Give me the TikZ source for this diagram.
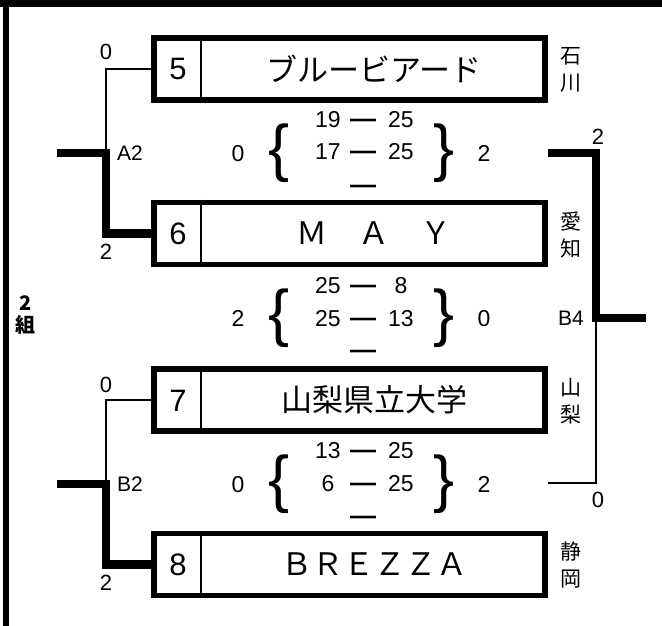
\documentclass[tikz,border=0pt]{standalone}
\usepackage{fontspec}
\setmainfont{Liberation Sans}
\newfontfamily\jpfont{Noto Sans CJK JP}
\usetikzlibrary{positioning}

\tikzset{
  teambox/.style={draw, line width=5.5pt, minimum width=391pt, minimum height=62pt, inner sep=0pt},
  divline/.style={line width=2.5pt},
  winline/.style={line width=8.5pt},
  loseline/.style={line width=2pt},
  numtxt/.style={font=\fontsize{31}{31}\selectfont, text height=22pt, text depth=0pt, inner sep=0pt},
  nametxt/.style={font=\jpfont\fontsize{31}{31}\selectfont, inner sep=0pt},
  preftxt/.style={font=\jpfont\fontsize{21}{27}\selectfont, align=center, inner sep=0pt},
  scoretxt/.style={font=\fontsize{23}{23}\selectfont, anchor=base, inner sep=0pt},
  dashtxt/.style={font=\bfseries\fontsize{26}{26}\selectfont, anchor=base, inner sep=0pt},
  bracetxt/.style={font=\fontsize{63}{63}\selectfont, inner sep=0pt},
  cornertxt/.style={font=\fontsize{22}{22}\selectfont, text height=15.5pt, text depth=0pt, inner sep=0pt},
  tagtxt/.style={font=\fontsize{21}{21}\selectfont, text height=15pt, text depth=0pt, inner sep=0pt},
  grouptxt/.style={font=\jpfont\bfseries\fontsize{20}{22}\selectfont, align=center, inner sep=0pt}
}

\begin{document}
\begin{tikzpicture}[x=1pt, y=-1pt]
\useasboundingbox (0,0) rectangle (662,626);
% frame
\draw[line width=6pt] (6,0) -- (6,626);
\draw[line width=7pt] (0,3.5) -- (662,3.5);
\node[grouptxt] (grp) at (26,315) {2\\組};
%
% teams
\node[teambox] (t5) at (349.5,69) {};
\node[teambox] (t6) at (349.5,233.5) {};
\node[teambox] (t7) at (349.5,400) {};
\node[teambox] (t8) at (349.5,564.5) {};
\draw[divline] ([xshift=49.5pt]t5.north west) -- ([xshift=49.5pt]t5.south west);
\draw[divline] ([xshift=49.5pt]t6.north west) -- ([xshift=49.5pt]t6.south west);
\draw[divline] ([xshift=49.5pt]t7.north west) -- ([xshift=49.5pt]t7.south west);
\draw[divline] ([xshift=49.5pt]t8.north west) -- ([xshift=49.5pt]t8.south west);
\node[numtxt] (n5) at (178,69) {5};
\node[numtxt] (n6) at (178,233.5) {6};
\node[numtxt] (n7) at (178,400) {7};
\node[numtxt] (n8) at (178,564.5) {8};
\node[nametxt] (m5) at (374,69) {ブルービアード};
\node[nametxt] (m6) at (374,233.5) {Ｍ　Ａ　Ｙ};
\node[nametxt] (m7) at (374,400) {山梨県立大学};
\node[nametxt] (m8) at (374,564.5) {ＢＲＥＺＺＡ};
\node[preftxt] (p5) at (571,70) {石\\川};
\node[preftxt] (p6) at (571,235) {愛\\知};
\node[preftxt] (p7) at (571,401) {山\\梨};
\node[preftxt] (p8) at (571,565) {静\\岡};
%
% first round, left
\coordinate (A2) at (106,153);
\coordinate (A2in) at (57,153);
\draw[loseline] (t5.west) -| (A2);
\draw[winline] (A2in) -- (A2) |- (t6.west);
\node[cornertxt] (c5) at (106,52) {0};
\node[cornertxt] (c6) at (106,252) {2};
\node[tagtxt] (tA2) at (130,153) {A2};
\coordinate (B2) at (106,484);
\coordinate (B2in) at (57,484);
\draw[loseline] (t7.west) -| (B2);
\draw[winline] (B2in) -- (B2) |- (t8.west);
\node[cornertxt] (c7) at (106,385) {0};
\node[cornertxt] (c8) at (106,583) {2};
\node[tagtxt] (tB2) at (130,484) {B2};
%
% right side
\coordinate (B4) at (596,318);
\coordinate (B4out) at (646,318);
\coordinate (R56) at (548,153);
\coordinate (R78) at (548,483);
\draw[winline] (R56) -| (B4) -- (B4out);
\draw[loseline] (R78) -| (B4);
\node[cornertxt] (cR56) at (598,137) {2};
\node[cornertxt] (cR78) at (598,500) {0};
\node[tagtxt] (tB4) at (571,318) {B4};
%
% scores 5-6
\node[scoretxt] (s1l) at (238,161) {0};
\node[bracetxt] (s1lb) at (279,153) {\{};
\node[scoretxt] (s1a1) at (328,128) {19};
\node[dashtxt] (s1d1) at (363,128) {—};
\node[scoretxt] (s1b1) at (401,128) {25};
\node[scoretxt] (s1a2) at (328,160) {17};
\node[dashtxt] (s1d2) at (363,160) {—};
\node[scoretxt] (s1b2) at (401,160) {25};
\node[dashtxt] (s1d3) at (363,193) {—};
\node[bracetxt] (s1rb) at (444,153) {\}};
\node[scoretxt] (s1r) at (484,161) {2};
%
% scores 6-7
\node[scoretxt] (s2l) at (238,326) {2};
\node[bracetxt] (s2lb) at (279,318) {\{};
\node[scoretxt] (s2a1) at (328,293) {25};
\node[dashtxt] (s2d1) at (363,293) {—};
\node[scoretxt] (s2b1) at (401,293) {8};
\node[scoretxt] (s2a2) at (328,326) {25};
\node[dashtxt] (s2d2) at (363,326) {—};
\node[scoretxt] (s2b2) at (401,326) {13};
\node[dashtxt] (s2d3) at (363,358) {—};
\node[bracetxt] (s2rb) at (444,318) {\}};
\node[scoretxt] (s2r) at (484,326) {0};
%
% scores 7-8
\node[scoretxt] (s3l) at (238,492) {0};
\node[bracetxt] (s3lb) at (279,484) {\{};
\node[scoretxt] (s3a1) at (328,458) {13};
\node[dashtxt] (s3d1) at (363,458) {—};
\node[scoretxt] (s3b1) at (401,458) {25};
\node[scoretxt] (s3a2) at (328,491) {6};
\node[dashtxt] (s3d2) at (363,491) {—};
\node[scoretxt] (s3b2) at (401,491) {25};
\node[dashtxt] (s3d3) at (363,524) {—};
\node[bracetxt] (s3rb) at (444,484) {\}};
\node[scoretxt] (s3r) at (484,492) {2};
\end{tikzpicture}
\end{document}
